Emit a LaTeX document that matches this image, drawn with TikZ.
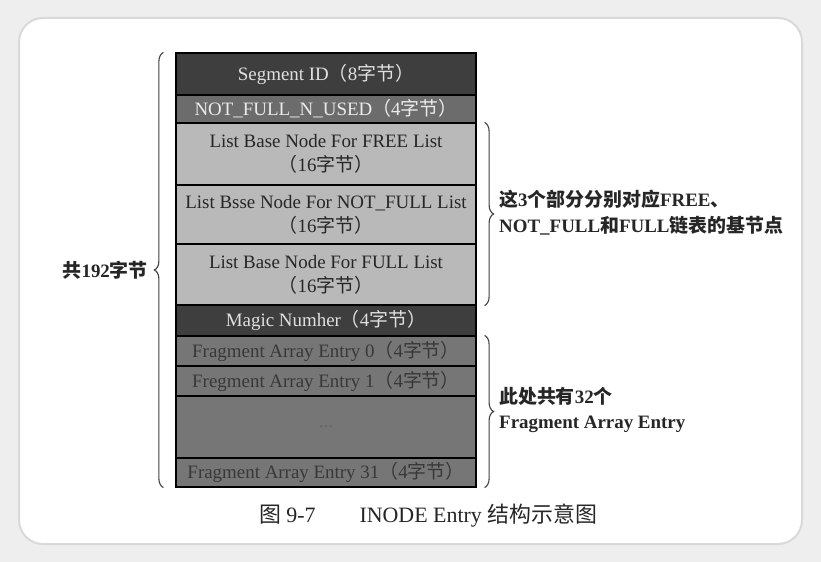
\documentclass[tikz,border=0pt]{standalone}
\usepackage{fontspec}
\setmainfont{Liberation Serif}
\newfontfamily\cjk{Noto Sans CJK SC}
\usetikzlibrary{positioning,decorations.pathreplacing,calc}
\definecolor{DarkRow}{HTML}{3E3E3E}
\definecolor{MidRow}{HTML}{6C6C6C}
\definecolor{LightRow}{HTML}{B9B9B9}
\definecolor{FragRow}{HTML}{767676}
\definecolor{PageGray}{HTML}{EEEEEE}
\newcommand{\zjie}[1]{{\cjk（}#1{\cjk 字节）}}

\begin{document}
\begin{tikzpicture}[x=1bp,y=-1bp,
  row/.style={draw=black, line width=1.2bp, minimum width=300bp, inner sep=0pt, align=center, font=\fontsize{19}{24}\selectfont},
  dark/.style={row, fill=DarkRow, text=white!88!black},
  mid/.style={row, fill=MidRow, text=white!92!black},
  light/.style={row, fill=LightRow, text=black!85},
  frag/.style={row, fill=FragRow, text=black!78},
  note/.style={align=left, font=\fontsize{19}{26}\selectfont\bfseries, text=black!85, inner sep=0pt},
  brace/.style={decorate, decoration={brace, amplitude=9bp}, line width=1.1bp, draw=black!75}]
\useasboundingbox (0,0) rectangle (821,562);
\fill[PageGray] (0,0) rectangle (821,562);
\draw[fill=white, draw=black!15, line width=2bp, rounded corners=24bp] (19,18) rectangle (802,544);
% table rows
\node[dark,  minimum height=42bp] (seg)   at (326,74)    {Segment ID\zjie{8}};
\node[mid,   minimum height=28bp] (nfu)   at (326,109)   {NOT\_FULL\_N\_USED\zjie{4}};
\node[light, minimum height=62bp] (free)  at (326,154)   {List Base Node For FREE List\\\zjie{16}};
\node[light, minimum height=59bp] (nfl)   at (326,214.5) {List Bsse Node For NOT\_FULL List\\\zjie{16}};
\node[light, minimum height=61bp] (full)  at (326,274.5) {List Base Node For FULL List\\\zjie{16}};
\node[dark,  minimum height=31bp] (magic) at (326,320.5) {Magic Numher\zjie{4}};
\node[frag,  minimum height=30bp] (f0)    at (326,351)   {Fragment Array Entry 0\zjie{4}};
\node[frag,  minimum height=30bp] (f1)    at (326,381)   {Fregment Array Entry 1\zjie{4}};
\node[frag,  minimum height=62bp, text=black!60] (gap) at (326,427) {...};
\node[frag,  minimum height=29bp] (f31)   at (326,472.5) {Fragment Array Entry 31\zjie{4}};
% braces
\draw[brace] ([xshift=-12bp]f31.south west) -- ([xshift=-12bp]seg.north west);
\draw[brace] ([xshift=8bp]free.north east) -- ([xshift=8bp]full.south east);
\draw[brace] ([xshift=8bp]f0.north east) -- ([xshift=8bp]f31.south east);
\node[note, anchor=east] (total) at (148,270) {{\cjk 共}192{\cjk 字节}};
\node[note, anchor=west] (lists) at (499,213) {{\cjk 这}3{\cjk 个部分分别对应}FREE{\cjk 、}\\NOT\_FULL{\cjk 和}FULL{\cjk 链表的基节点}};
\node[note, anchor=west] (frags) at (499,410) {{\cjk 此处共有}32{\cjk 个}\\Fragment Array Entry};
% caption
\node[font=\fontsize{22}{26}\selectfont, text=black!85] (cap) at (428,516) {{\cjk 图} 9-7\quad\quad INODE Entry {\cjk 结构示意图}};
\end{tikzpicture}
\end{document}
